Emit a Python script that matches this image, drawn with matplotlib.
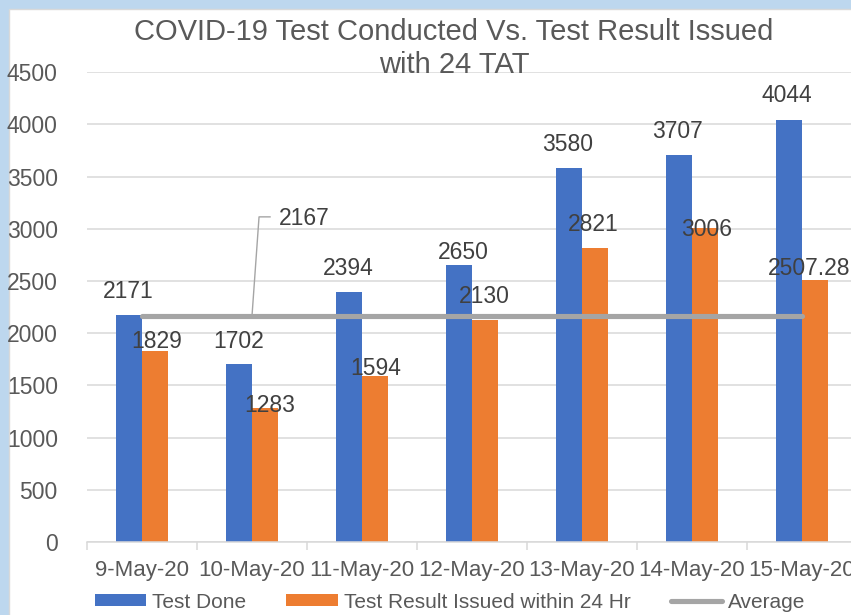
import matplotlib
matplotlib.use('Agg')
import matplotlib.pyplot as plt
from matplotlib.patches import Rectangle, Patch
from matplotlib.lines import Line2D
import numpy as np

plt.rcParams['font.family'] = ['Liberation Sans', 'DejaVu Sans']

# ---- data ----
dates = ['9-May-20', '10-May-20', '11-May-20', '12-May-20',
         '13-May-20', '14-May-20', '15-May-20']
test_done = [2171, 1702, 2394, 2650, 3580, 3707, 4044]
result_issued = [1829, 1283, 1594, 2130, 2821, 3006, 2507.28]
average = [2167, 2167, 2167, 2167, 2167, 2167, 2167]
y_ticks = [0, 500, 1000, 1500, 2000, 2500, 3000, 3500, 4000, 4500]
title = 'COVID-19 Test Conducted Vs. Test Result Issued\nwith 24 TAT'
series_names = ['Test Done', 'Test Result Issued within 24 Hr', 'Average']

# ---- label layout (offsets in category units, baselines in value units) ----
done_lbl_dx = [-0.127, -0.123, -0.123, -0.077, -0.132, -0.136, -0.136]
done_lbl_base = [2336, 1856, 2562, 2707, 3745, 3875, 4211]
res_lbl_dx = [0.136, 0.159, 0.127, 0.109, 0.105, 0.136, 0.064]
res_lbl_base = [1856, 1250, 1601, 2288, 2976, 2928, 2562]

BLUE = '#4472C4'
ORANGE = '#ED7D31'
GRAY = '#A5A5A5'
GRID = '#D9D9D9'
TXT = '#595959'
LBL = '#404040'

W, H = 851, 615
fig = plt.figure(figsize=(W / 100, H / 100), dpi=100)
fig.patch.set_facecolor('#BDD7EE')
bg = Rectangle((9 / W, -0.01), 1, 1.01 - 9 / H, transform=fig.transFigure,
               facecolor='white', edgecolor='#D9D9D9', lw=1.0, zorder=-10)
fig.patches.append(bg)

ax = fig.add_axes([87 / W, (H - 542) / H, (857 - 87) / W, (542 - 72.3) / H])
ax.set_facecolor('none')
ax.set_zorder(1)

x = np.arange(len(dates))
bw = 0.2364
ax.bar(x - bw / 2, test_done, width=bw, color=BLUE, zorder=2)
ax.bar(x + bw / 2, result_issued, width=bw, color=ORANGE, zorder=2)
ax.plot(x, average, color=GRAY, lw=3.7, solid_capstyle='round', zorder=3)

ax.set_xlim(-0.5, len(dates) - 0.5)
ax.set_ylim(0, 4500)
ax.set_yticks(y_ticks)
ax.set_yticklabels([str(v) for v in y_ticks])
ax.yaxis.grid(True, color=GRID, lw=1.1, zorder=0)
ax.set_axisbelow(True)
for s in ['top', 'right', 'left']:
    ax.spines[s].set_visible(False)
ax.spines['bottom'].set_color(GRID)
ax.spines['bottom'].set_linewidth(1.1)

ax.set_xticks(x)
ax.set_xticklabels(dates)
ax.set_xticks(np.arange(-0.5, len(dates), 1.0), minor=True)
ax.tick_params(axis='x', which='major', length=0, pad=13, labelsize=16, labelcolor=TXT)
ax.tick_params(axis='x', which='minor', length=6, color=GRID, width=1.1)
ax.tick_params(axis='y', length=0, pad=21, labelsize=16.5, labelcolor=TXT)

# data labels
for i in range(len(dates)):
    ax.text(x[i] + done_lbl_dx[i], done_lbl_base[i], f'{test_done[i]:g}',
            ha='center', va='baseline', fontsize=16.5, color=LBL, zorder=5)
    ax.text(x[i] + res_lbl_dx[i], res_lbl_base[i], f'{result_issued[i]:g}',
            ha='center', va='baseline', fontsize=16.5, color=LBL, zorder=5,
            clip_on=False)

# average label with leader line
ax.plot([1.0, 1.064, 1.164], [average[1], 3115, 3115], color=GRAY, lw=1.0, zorder=4)
ax.text(1.245, 3038, f'{average[1]:g}', ha='left', va='baseline',
        fontsize=16.5, color=LBL, zorder=5)

fig.text(454 / W, (H - 48.5) / H, title, ha='center', va='center',
         fontsize=21, color=TXT, linespacing=1.2, zorder=2)

handles = [Patch(facecolor=BLUE), Patch(facecolor=ORANGE),
           Line2D([0], [0], color=GRAY, lw=3.7, solid_capstyle='round')]
fig.legend(handles, series_names, loc='center', bbox_to_anchor=(450 / W, (H - 602) / H),
           ncol=3, frameon=False, fontsize=15, handlelength=2.45, handleheight=0.5,
           handletextpad=0.29, columnspacing=1.95, labelcolor=TXT, borderpad=0,
           borderaxespad=0)

fig.savefig('out.png', dpi=100, facecolor=fig.get_facecolor())
